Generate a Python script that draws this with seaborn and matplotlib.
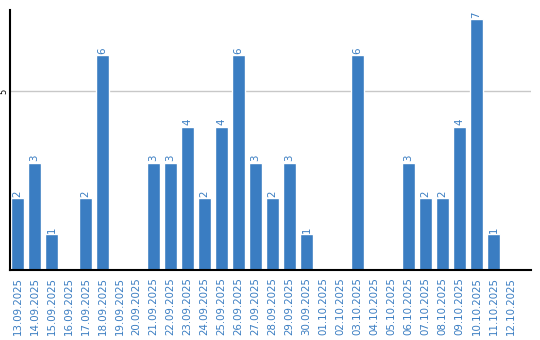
import matplotlib
matplotlib.use("Agg")
import matplotlib.pyplot as plt
import seaborn as sns
import pandas as pd

dates = ["13.09.2025", "14.09.2025", "15.09.2025", "16.09.2025", "17.09.2025",
         "18.09.2025", "19.09.2025", "20.09.2025", "21.09.2025", "22.09.2025",
         "23.09.2025", "24.09.2025", "25.09.2025", "26.09.2025", "27.09.2025",
         "28.09.2025", "29.09.2025", "30.09.2025", "01.10.2025", "02.10.2025",
         "03.10.2025", "04.10.2025", "05.10.2025", "06.10.2025", "07.10.2025",
         "08.10.2025", "09.10.2025", "10.10.2025", "11.10.2025", "12.10.2025"]
counts = [2, 3, 1, 0, 2, 6, 0, 0, 3, 3, 4, 2, 4, 6, 3, 2, 3, 1, 0, 0,
          6, 0, 0, 3, 2, 2, 4, 7, 1, 0]

BLUE = "#3a7dc2"

sns.set_style("white")
plt.rcParams['font.family'] = ['DejaVu Sans']

df = pd.DataFrame({"date": dates, "count": counts})

fig = plt.figure(figsize=(5.4, 3.4), dpi=100)
ax = fig.add_axes([10 / 540, 70 / 340, 521 / 540, 260 / 340])

sns.barplot(data=df, x="date", y="count", color=BLUE, saturation=1,
            width=0.8, ax=ax)

ax.set_xlim(-0.44, 30.2)
ax.set_ylim(0, 7.26)
ax.set_yticks([5])
ax.set_yticklabels(["5"], rotation=90, va="center", fontsize=6, color="black")
ax.yaxis.grid(True, color="#c8c8c8", linewidth=1)
ax.set_axisbelow(True)
ax.tick_params(axis="y", length=0, pad=1)
ax.tick_params(axis="x", length=0, pad=5)
ax.set_xticks(range(len(dates)))
ax.set_xticklabels(dates, rotation=90, fontsize=7.4, color=BLUE)
ax.set_xlabel("")
ax.set_ylabel("")

for side in ["top", "right"]:
    ax.spines[side].set_visible(False)
for side in ["left", "bottom"]:
    ax.spines[side].set_color("black")
    ax.spines[side].set_linewidth(1.5)

labels = [str(v) if v > 0 else "" for v in counts]
ax.bar_label(ax.containers[0], labels=labels, rotation=90, color=BLUE,
             fontsize=7.4, padding=1)

fig.savefig("out.png", dpi=100)
